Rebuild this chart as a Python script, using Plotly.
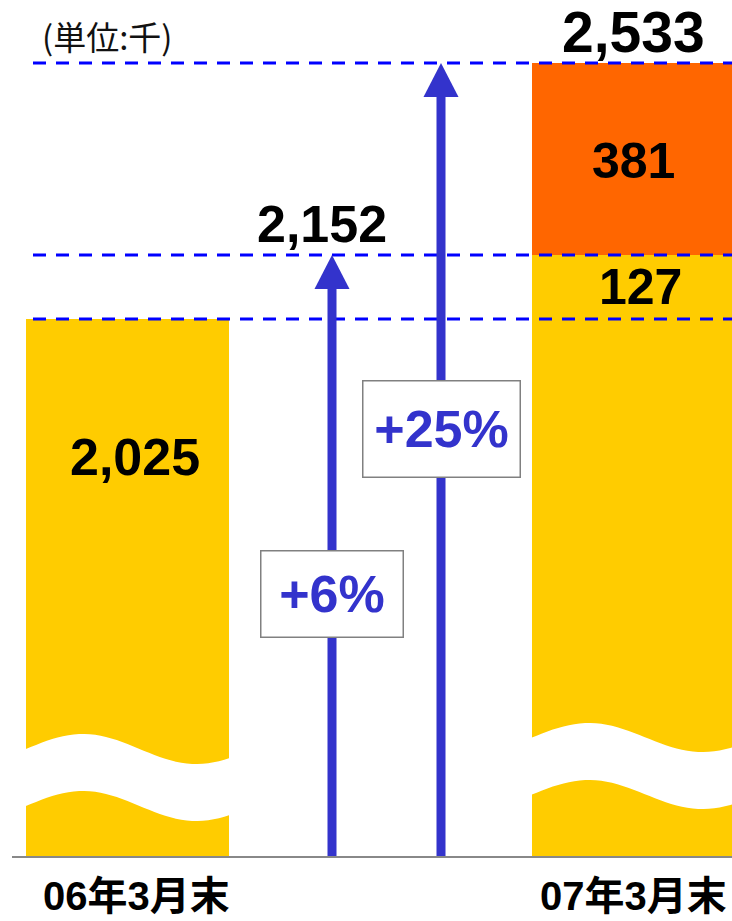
import math
import plotly.graph_objects as go

# ---- data (unit: thousand) ----
categories = ["06年3月末", "07年3月末"]
base_values = [2025, 2025]      # level at end of March 2006
growth_yellow = [0, 127]        # first increment
growth_orange = [0, 381]        # second increment
unit_label = "(単位:千)"

prev_total = base_values[0]
mid_total = base_values[1] + growth_yellow[1]
new_total = mid_total + growth_orange[1]

# ---- geometry / style ----
W, H = 732, 921
PLOT_H = 857                      # plot area height in px (bottom margin below)
X_PX = 506                        # px per x unit (distance between bar centres)
X_LEFT_PX = 127.5                 # px of first bar centre
Y_MIN, Y_MAX = 957.4, 2658        # broken axis: visible value window
K = PLOT_H / (Y_MAX - Y_MIN)      # px per value unit
BAR_W = 203 / X_PX

YELLOW = "#FFCC00"
ORANGE = "#FF6600"
ARROW = "#3333CC"
DASH_BLUE = "#0000FF"
FONT = "Liberation Sans, Arial, sans-serif"
CJK = "Noto Sans CJK JP, sans-serif"

x_pos = [0, 1]
x_range = [-X_LEFT_PX / X_PX, (W - X_LEFT_PX) / X_PX]


def px_to_x(px):
    return (px - X_LEFT_PX) / X_PX


def px_to_paper_y(py):
    return (PLOT_H - py) / PLOT_H


fig = go.Figure()
for vals, col in [(base_values, YELLOW), (growth_yellow, YELLOW), (growth_orange, ORANGE)]:
    fig.add_trace(go.Bar(
        x=x_pos, y=vals, width=BAR_W, marker=dict(color=col, line=dict(width=0)),
        hoverinfo="skip", showlegend=False,
    ))

shapes = []

# wavy white band marking the axis break on each bar
wave_centres = [749, 737.5]   # px of the band's upper edge mid-line
wave_amp = [15, 14.5]
band = 57
for xc, c, a in zip(x_pos, wave_centres, wave_amp):
    us = [i / 40 * 1.06 - 0.03 for i in range(41)]
    top = [(xc - BAR_W / 2 + u * BAR_W, c - a * math.cos(2 * math.pi * (u - 0.28) / 1.12)) for u in us]
    bot = [(x, y + band) for x, y in reversed(top)]
    pts = top + bot
    path = "M " + " L ".join(f"{x:.5f},{px_to_paper_y(y):.5f}" for x, y in pts) + " Z"
    shapes.append(dict(type="path", path=path, xref="x", yref="paper",
                       fillcolor="white", line=dict(width=0), layer="above"))

# dashed reference lines at each level
for lvl in [prev_total, mid_total, new_total]:
    shapes.append(dict(type="line", xref="paper", yref="y", x0=33 / W, x1=1, y0=lvl, y1=lvl,
                       line=dict(color=DASH_BLUE, width=3, dash="13px,10px")))

# growth arrows
arrow_x = [px_to_x(332), px_to_x(441)]
arrow_tops = [mid_total, new_total]
head_h = 34 / K
head_w = 35 / X_PX
for ax, top in zip(arrow_x, arrow_tops):
    shapes.append(dict(type="line", xref="x", yref="y", x0=ax, x1=ax, y0=Y_MIN, y1=top - head_h + 1 / K,
                       line=dict(color=ARROW, width=9)))
    shapes.append(dict(type="path", xref="x", yref="y",
                       path=f"M {ax - head_w / 2},{top - head_h} L {ax + head_w / 2},{top - head_h} L {ax},{top} Z",
                       fillcolor=ARROW, line=dict(width=0)))

# baseline
shapes.append(dict(type="line", xref="paper", yref="paper", x0=12 / W, x1=1, y0=0, y1=0,
                   line=dict(color="#888888", width=2)))

annotations = []


def label(text, x, y, size, yshift=0, xshift=0, color="black"):
    annotations.append(dict(text=text, x=x, y=y, xref="x", yref="y", showarrow=False,
                            xanchor="center", yanchor="middle", yshift=yshift, xshift=xshift,
                            font=dict(family=FONT, size=size, color=color, weight="bold")))


label(f"{prev_total:,}", 0, prev_total, 52, yshift=-138, xshift=7)
label(f"{growth_yellow[1]:,}", 1, (prev_total + mid_total) / 2, 50, xshift=7)
label(f"{growth_orange[1]:,}", 1, (mid_total + new_total) / 2, 50, yshift=-2)
label(f"{new_total:,}", 1, new_total, 57, yshift=31)
label(f"{mid_total:,}", arrow_x[0], mid_total, 52, yshift=31, xshift=-10)

# percentage boxes on the arrows
pct_boxes = [(mid_total, 593.5, 141, 85), (new_total, 428.5, 156, 95)]
for ax, (tot, cy, bw, bh) in zip(arrow_x, pct_boxes):
    pct = round((tot / prev_total - 1) * 100)
    annotations.append(dict(text=f"+{pct}%", x=ax, y=px_to_paper_y(cy), xref="x", yref="paper",
                            showarrow=False, xanchor="center", yanchor="middle",
                            width=bw, height=bh, bgcolor="white", bordercolor="#808080",
                            borderwidth=1.5, borderpad=0,
                            font=dict(family=FONT, size=52, color=ARROW, weight="bold")))

# category labels under the bars
for xc, cat, xs in zip(x_pos, categories, [9, 0]):
    annotations.append(dict(text=cat, x=xc, y=0, xref="x", yref="paper", showarrow=False,
                            xanchor="center", yanchor="bottom", yshift=-(H - PLOT_H) + 1, xshift=xs,
                            font=dict(family="Liberation Sans, Noto Sans CJK JP, sans-serif",
                                      size=40, color="black", weight="bold")))

annotations.append(dict(text=unit_label, x=40 / W, y=px_to_paper_y(36), xref="paper", yref="paper",
                        showarrow=False, xanchor="left", yanchor="middle",
                        font=dict(family=CJK, size=33, color="#111111")))

fig.update_layout(
    width=W, height=H,
    margin=dict(l=0, r=0, t=0, b=H - PLOT_H),
    barmode="stack", bargap=0,
    plot_bgcolor="white", paper_bgcolor="white",
    shapes=shapes, annotations=annotations,
    xaxis=dict(range=x_range, showgrid=False, zeroline=False, showline=False, ticks="",
               showticklabels=False, fixedrange=True),
    yaxis=dict(range=[Y_MIN, Y_MAX], showgrid=False, zeroline=False, showline=False,
               showticklabels=False, ticks="", fixedrange=True),
)

fig.write_html("out.html")
